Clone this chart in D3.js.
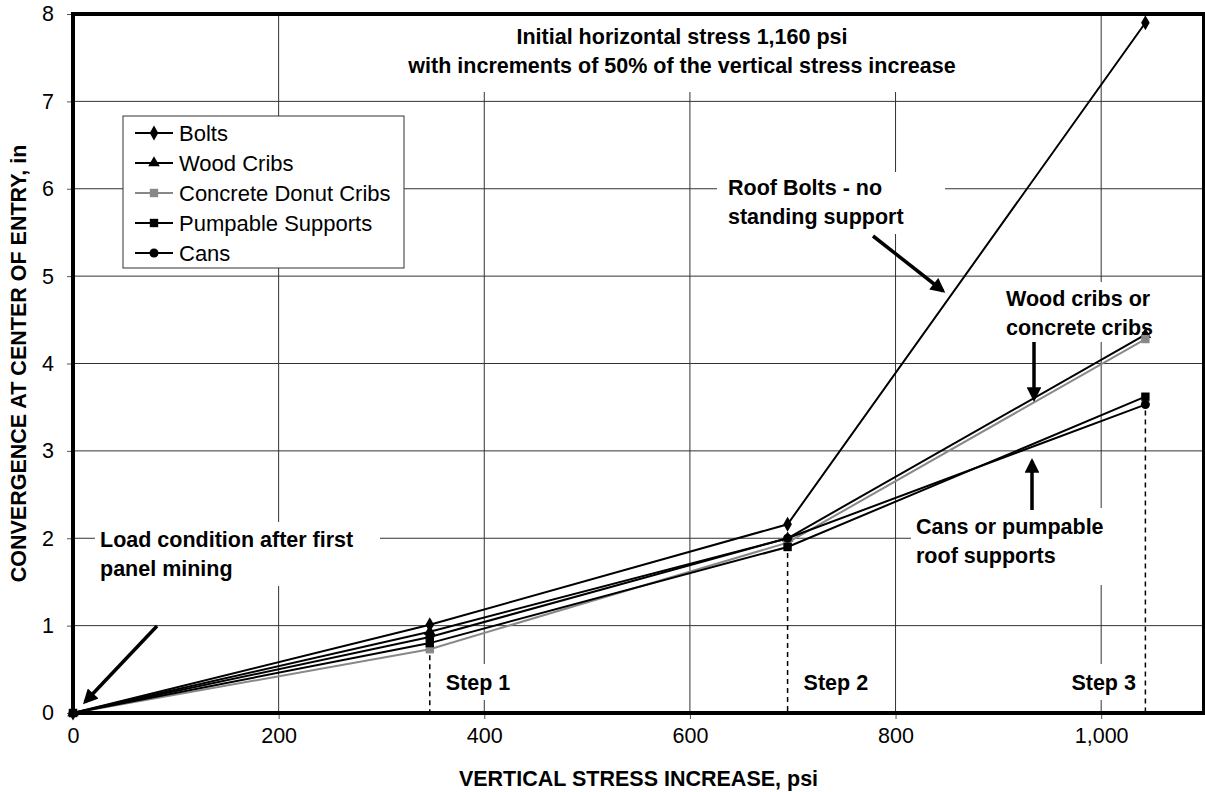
<!DOCTYPE html>
<html>
<head>
<meta charset="utf-8">
<script src="https://d3js.org/d3.v7.min.js"></script>
<style>
    body { margin: 0; background: #fff; }
    svg { font-family: "Liberation Sans", Arial, sans-serif; }
    .grid line { stroke: #333; stroke-width: 1; }
    .lbl { font-weight: bold; font-size: 21.5px; fill: #000; }
</style>
</head>
<body>
<div id="chart"></div>
<script>
    // stress steps (psi) and convergence (in) per support type
    var stress = [0, 347, 695, 1043];
    var bolts = [0, 1.01, 2.16, 7.9];
    var woodCribs = [0, 0.93, 2.0, 4.33];
    var concreteCribs = [0, 0.73, 1.95, 4.28];
    var pumpable = [0, 0.8, 1.9, 3.62];
    var cans = [0, 0.87, 2.0, 3.53];

    var seriesNames = ['Bolts', 'Wood Cribs', 'Concrete Donut Cribs', 'Pumpable Supports', 'Cans'];
    var seriesValues = [bolts, woodCribs, concreteCribs, pumpable, cans];
    var seriesShapes = [d3.symbolDiamond, d3.symbolTriangle, d3.symbolSquare, d3.symbolSquare, d3.symbolCircle];
    var seriesColors = ['#000', '#000', '#888', '#000', '#000'];
    var seriesSizes = [64, 58, 70, 70, 64];

    var xTicks = [0, 200, 400, 600, 800, 1000];
    var yTicks = [0, 1, 2, 3, 4, 5, 6, 7, 8];
    var stepNames = ['Step 1', 'Step 2', 'Step 3'];

    var width = 1205, height = 792;
    var pLeft = 73, pRight = 1204, pTop = 14, pBottom = 713;

    var x = d3.scaleLinear().domain([0, 1100]).range([pLeft, pRight]);
    var y = d3.scaleLinear().domain([0, 8]).range([pBottom, pTop]);

    var svg = d3.select('#chart').append('svg')
        .attr('width', width)
        .attr('height', height);

    // grid
    var grid = svg.append('g').attr('class', 'grid');
    grid.selectAll('.gx').data(xTicks.slice(1)).enter().append('line')
        .attr('x1', function (d) { return x(d); })
        .attr('x2', function (d) { return x(d); })
        .attr('y1', pTop).attr('y2', pBottom);
    grid.selectAll('.gy').data(yTicks.slice(1)).enter().append('line')
        .attr('x1', pLeft).attr('x2', pRight)
        .attr('y1', function (d) { return y(d); })
        .attr('y2', function (d) { return y(d); });

    // axes
    var xAxis = d3.axisBottom(x).tickValues(xTicks).tickSize(6).tickSizeOuter(0).tickPadding(9)
        .tickFormat(d3.format(','));
    var yAxis = d3.axisLeft(y).tickValues(yTicks).tickSize(6).tickSizeOuter(0).tickPadding(13);

    var gx = svg.append('g').attr('transform', 'translate(0,' + pBottom + ')').call(xAxis);
    var gy = svg.append('g').attr('transform', 'translate(' + pLeft + ',0)').call(yAxis);
    gx.select('.domain').remove();
    gy.select('.domain').remove();
    svg.selectAll('.tick text').attr('font-size', 21.5).attr('font-family', '"Liberation Sans", Arial, sans-serif').attr('fill', '#000');
    svg.selectAll('.tick line').attr('stroke', '#555');

    // white backgrounds that hide grid behind annotation text
    var boxes = [
        [410, 14, 545, 78], [717, 172, 228, 62], [1000, 282, 160, 60],
        [911, 508, 291, 77], [95, 522, 285, 64], [440, 664, 90, 36],
        [795, 664, 90, 36], [1068, 664, 76, 36]
    ];
    svg.selectAll('.bg').data(boxes).enter().append('rect')
        .attr('x', function (d) { return d[0]; })
        .attr('y', function (d) { return d[1]; })
        .attr('width', function (d) { return d[2]; })
        .attr('height', function (d) { return d[3]; })
        .attr('fill', '#fff');

    // step dashed lines
    var stepMin = stress.slice(1).map(function (s, i) {
        return d3.min(seriesValues, function (v) { return v[i + 1]; });
    });
    svg.selectAll('.step').data(stress.slice(1)).enter().append('line')
        .attr('x1', function (d) { return x(d); })
        .attr('x2', function (d) { return x(d); })
        .attr('y1', function (d, i) { return y(stepMin[i]) + 6; })
        .attr('y2', pBottom)
        .attr('stroke', '#000')
        .attr('stroke-width', 1.5)
        .attr('stroke-dasharray', '5,4');

    svg.selectAll('.steplbl').data(stepNames).enter().append('text')
        .attr('class', 'lbl')
        .attr('x', function (d, i) { return x(stress[i + 1]) + (i == 2 ? -74 : 16); })
        .attr('y', 690)
        .text(function (d) { return d; });

    // series
    var line = d3.line()
        .x(function (d, i) { return x(stress[i]); })
        .y(function (d) { return y(d); });

    seriesValues.forEach(function (vals, k) {
        svg.append('path')
            .datum(vals)
            .attr('d', line)
            .attr('fill', 'none')
            .attr('stroke', seriesColors[k])
            .attr('stroke-width', 2);
        svg.selectAll('.m' + k).data(vals).enter().append('path')
            .attr('transform', function (d, i) { return 'translate(' + x(stress[i]) + ',' + y(d) + ')'; })
            .attr('d', d3.symbol().type(seriesShapes[k]).size(seriesSizes[k]))
            .attr('fill', seriesColors[k]);
    });

    // frame
    svg.append('rect')
        .attr('x', pLeft).attr('y', pTop)
        .attr('width', pRight - pLeft).attr('height', pBottom - pTop)
        .attr('fill', 'none').attr('stroke', '#000').attr('stroke-width', 4);

    // legend
    var lg = svg.append('g');
    lg.append('rect').attr('x', 123).attr('y', 116).attr('width', 281).attr('height', 152)
        .attr('fill', '#fff').attr('stroke', '#333').attr('stroke-width', 1);
    seriesNames.forEach(function (name, k) {
        var ly = 133 + k * 30;
        lg.append('line').attr('x1', 135).attr('x2', 173).attr('y1', ly).attr('y2', ly)
            .attr('stroke', seriesColors[k]).attr('stroke-width', 2);
        lg.append('path').attr('transform', 'translate(154,' + ly + ')')
            .attr('d', d3.symbol().type(seriesShapes[k]).size(seriesSizes[k]))
            .attr('fill', seriesColors[k]);
        lg.append('text').attr('x', 179).attr('y', ly + 8).attr('font-size', 22).text(name);
    });

    // annotations
    var notes = [
        { x: 682, y: 44, anchor: 'middle', lines: ['Initial horizontal stress 1,160 psi', 'with increments of 50% of the vertical stress increase'] },
        { x: 728, y: 195, anchor: 'start', lines: ['Roof Bolts - no', 'standing support'] },
        { x: 1006, y: 306, anchor: 'start', lines: ['Wood cribs or', 'concrete cribs'] },
        { x: 916, y: 534, anchor: 'start', lines: ['Cans or pumpable', 'roof supports'] },
        { x: 100, y: 547, anchor: 'start', lines: ['Load condition after first', 'panel mining'] }
    ];
    notes.forEach(function (n) {
        var t = svg.append('text').attr('class', 'lbl').attr('text-anchor', n.anchor);
        n.lines.forEach(function (s, i) {
            t.append('tspan').attr('x', n.x).attr('y', n.y + i * 29).text(s);
        });
    });

    // arrows
    svg.append('defs').append('marker')
        .attr('id', 'head').attr('viewBox', '0 0 10 10')
        .attr('refX', 8).attr('refY', 5)
        .attr('markerWidth', 4.6).attr('markerHeight', 4.2)
        .attr('orient', 'auto')
        .append('path').attr('d', 'M0,0 L10,5 L0,10 Z').attr('fill', '#000');
    var arrows = [
        [873, 236, 943, 291], [1034, 342, 1034, 399],
        [1032, 510, 1032, 461], [157, 626, 85, 702]
    ];
    svg.selectAll('.arrow').data(arrows).enter().append('line')
        .attr('x1', function (d) { return d[0]; })
        .attr('y1', function (d) { return d[1]; })
        .attr('x2', function (d) { return d[2]; })
        .attr('y2', function (d) { return d[3]; })
        .attr('stroke', '#000').attr('stroke-width', 3.5)
        .attr('marker-end', 'url(#head)');

    // axis titles, centred on the plot area
    svg.append('text').attr('class', 'lbl')
        .attr('x', (pLeft + pRight) / 2).attr('y', 786).attr('text-anchor', 'middle')
        .text('VERTICAL STRESS INCREASE, psi');
    svg.append('text').attr('class', 'lbl')
        .attr('transform', 'translate(26,' + (pTop + pBottom) / 2 + ') rotate(-90)')
        .attr('text-anchor', 'middle')
        .text('CONVERGENCE AT CENTER OF ENTRY, in');
</script>
</body>
</html>
